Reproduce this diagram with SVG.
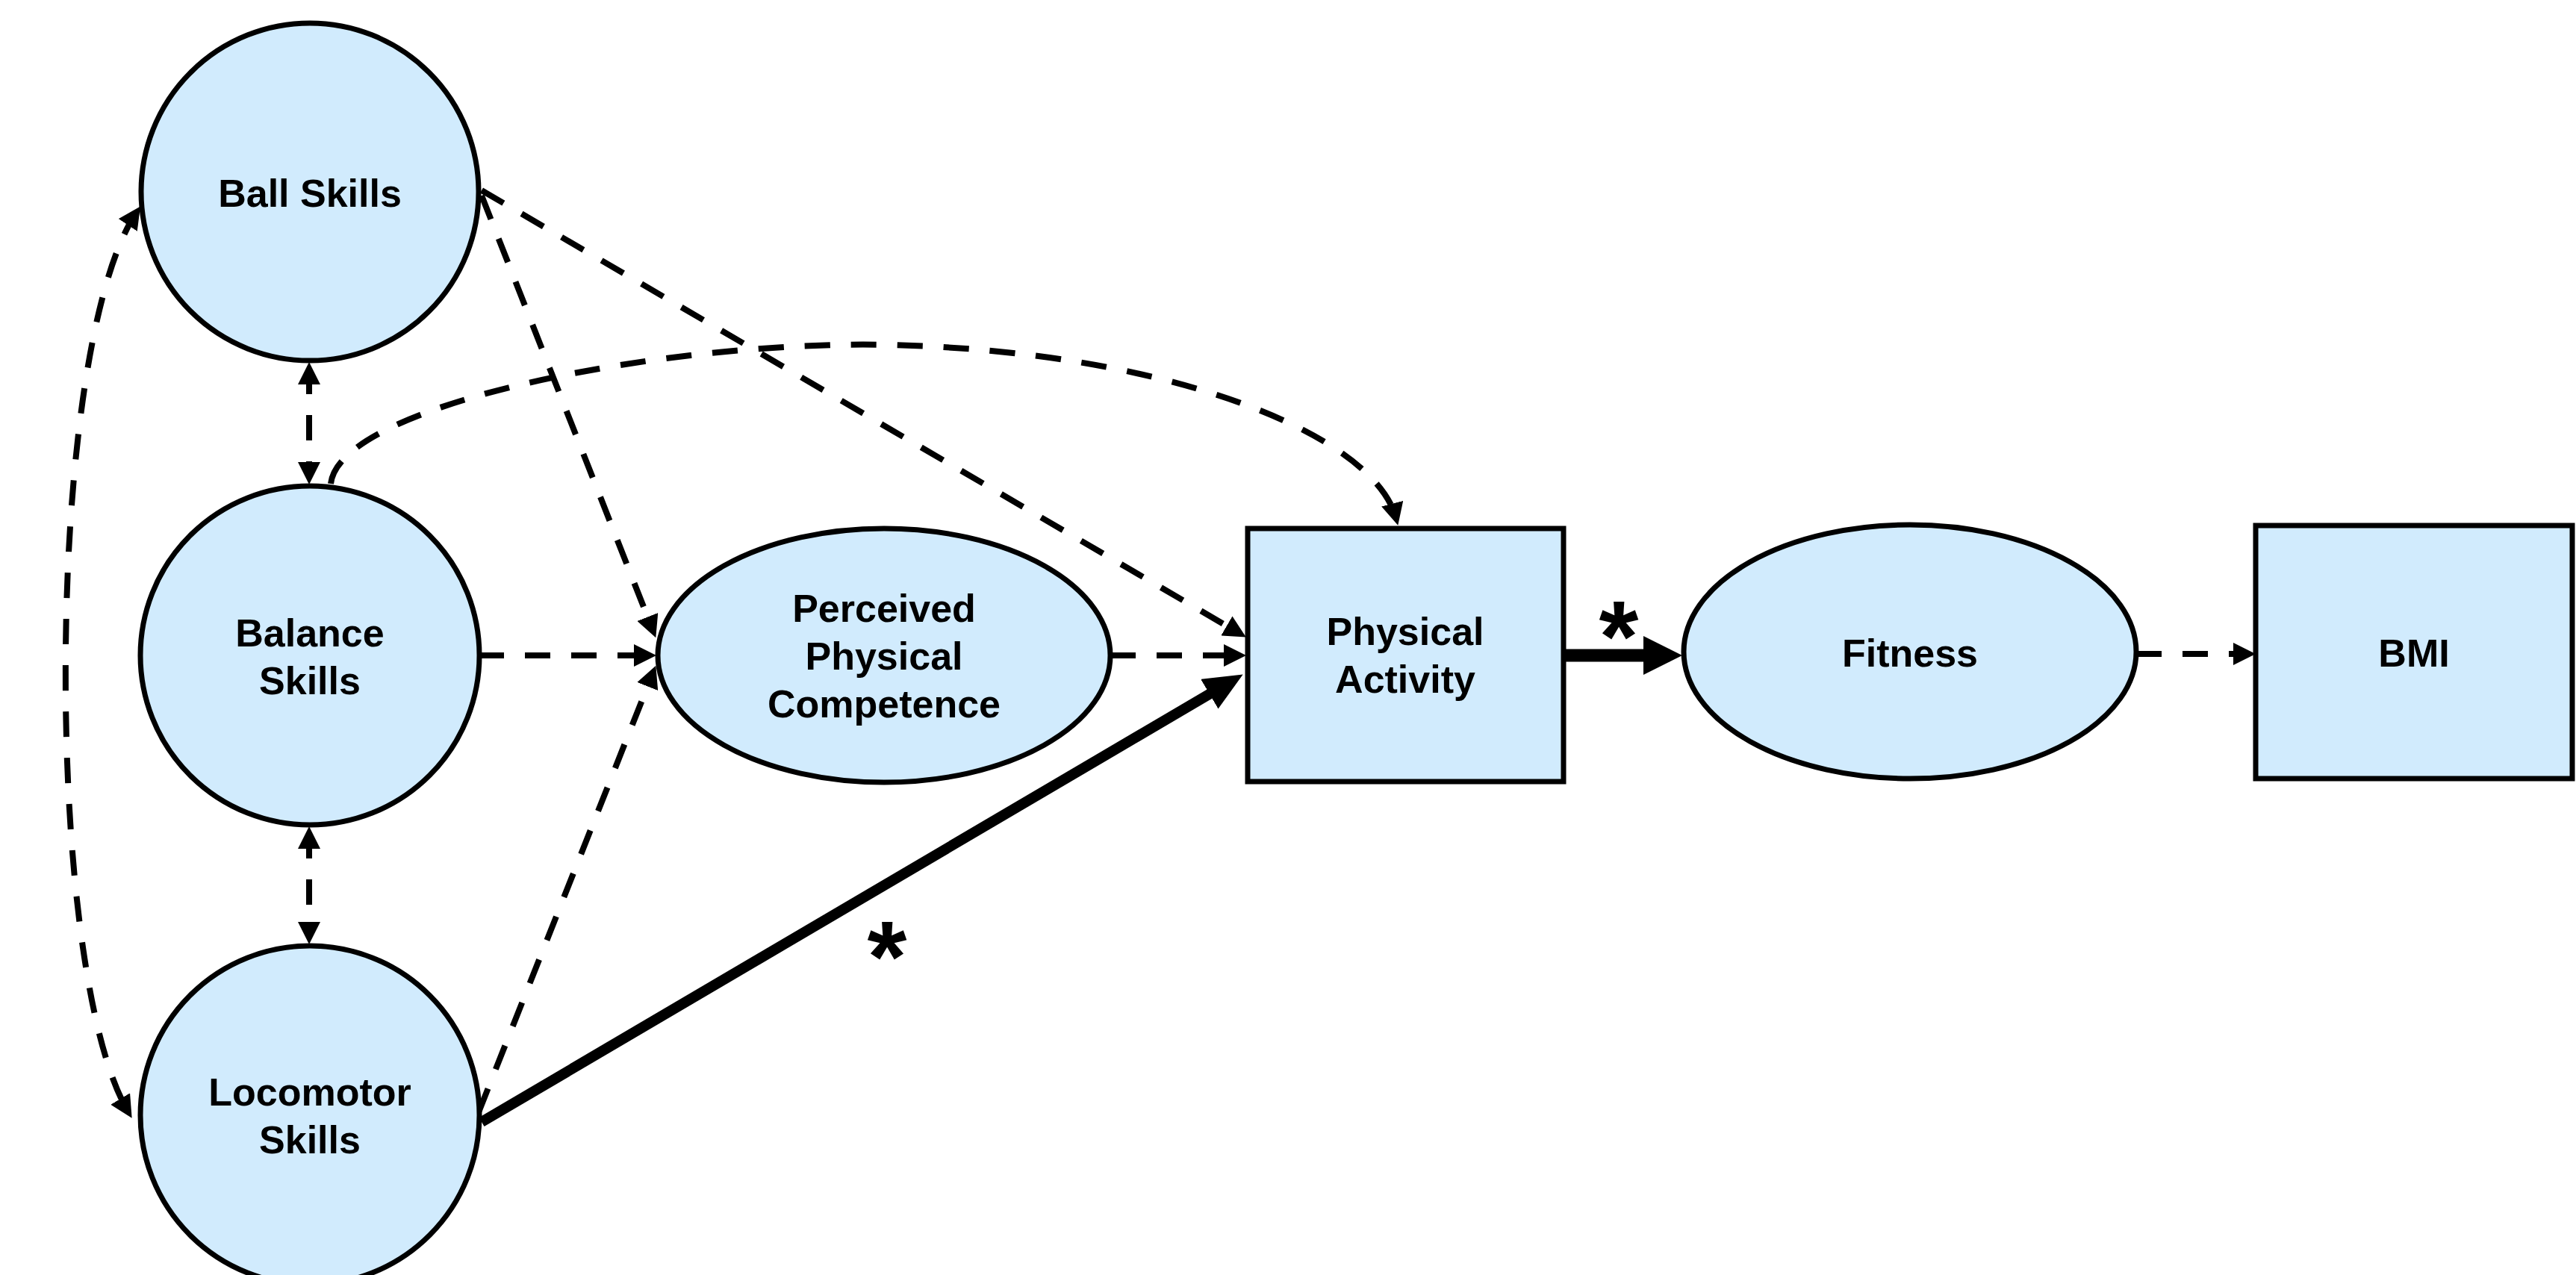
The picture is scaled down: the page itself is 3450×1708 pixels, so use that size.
<svg xmlns="http://www.w3.org/2000/svg" width="3450" height="1708" viewBox="0 0 3450 1708">
<style>
.node{fill:#d1ebfd;stroke:#000;stroke-width:7}
.lbl{font-family:"Liberation Sans",Arial,sans-serif;font-weight:bold;font-size:52px;text-anchor:middle;fill:#000}
.dash{fill:none;stroke:#000;stroke-width:8;stroke-dasharray:34 28}
.solid{fill:none;stroke:#000}
.star{font-family:"Liberation Sans",Arial,sans-serif;font-weight:bold;font-size:136px;text-anchor:middle;fill:#000}
</style>
<defs>
<marker id="ah" markerUnits="userSpaceOnUse" viewBox="0 0 30 30" markerWidth="30" markerHeight="30" refX="21" refY="15" orient="auto-start-reverse">
<path d="M0,0 L30,15 L0,30 z" fill="#000"/>
</marker>
<marker id="ahBig" markerUnits="userSpaceOnUse" viewBox="0 0 52 46" markerWidth="52" markerHeight="46" refX="35" refY="23" orient="auto">
<path d="M0,0 L52,23 L0,46 z" fill="#000"/>
</marker>
<marker id="ahBig2" markerUnits="userSpaceOnUse" viewBox="0 0 52 52" markerWidth="52" markerHeight="52" refX="35" refY="26" orient="auto">
<path d="M0,0 L52,26 L0,52 z" fill="#000"/>
</marker>
</defs>
<rect width="3450" height="1708" fill="#fff"/>
<g id="connectors">
<path class="dash" d="M414,494 L414,640" marker-start="url(#ah)" marker-end="url(#ah)"/>
<path class="dash" d="M414,1116 L414,1256" marker-start="url(#ah)" marker-end="url(#ah)"/>
<path class="dash" d="M183,284 C58,470 58,1300 172,1490" marker-start="url(#ah)" marker-end="url(#ah)"/>
<path class="dash" d="M645,262 L875,846" marker-end="url(#ah)"/>
<path class="dash" d="M641,878 L870,878" marker-end="url(#ah)"/>
<path class="dash" d="M641,1490 L875,900" marker-end="url(#ah)"/>
<path class="dash" d="M645,255 L1661,849" marker-end="url(#ah)"/>
<path class="dash" d="M443,648 C455,540 900,455 1190,462 C1560,470 1840,580 1870,695" marker-end="url(#ah)"/>
<path class="dash" d="M1487,878 L1660,878" marker-end="url(#ah)"/>
<path class="dash" d="M2861,876 L3012,876" marker-end="url(#ah)"/>
<path class="solid" stroke-width="14" d="M645,1503 L1650,912" marker-end="url(#ahBig)"/>
<path class="solid" stroke-width="17" d="M2094,878 L2236,878" marker-end="url(#ahBig2)"/>
<text class="star" x="1188" y="1328">*</text>
<text class="star" x="2168" y="899">*</text>
</g>
<g id="ball-skills">
<circle class="node" cx="415" cy="257" r="226"/>
<text class="lbl" x="415" y="277">Ball Skills</text>
</g>
<g id="balance-skills">
<circle class="node" cx="415" cy="878" r="227"/>
<text class="lbl" x="415" y="866">Balance</text>
<text class="lbl" x="415" y="930">Skills</text>
</g>
<g id="locomotor-skills">
<circle class="node" cx="415" cy="1494" r="227"/>
<text class="lbl" x="415" y="1481">Locomotor</text>
<text class="lbl" x="415" y="1545">Skills</text>
</g>
<g id="perceived-physical-competence">
<ellipse class="node" cx="1184" cy="878" rx="303" ry="170"/>
<text class="lbl" x="1184" y="833">Perceived</text>
<text class="lbl" x="1184" y="897">Physical</text>
<text class="lbl" x="1184" y="961">Competence</text>
</g>
<g id="physical-activity">
<rect class="node" x="1671" y="708" width="423" height="339"/>
<text class="lbl" x="1882" y="864">Physical</text>
<text class="lbl" x="1882" y="928">Activity</text>
</g>
<g id="fitness">
<ellipse class="node" cx="2558" cy="873" rx="303" ry="170"/>
<text class="lbl" x="2558" y="893">Fitness</text>
</g>
<g id="bmi">
<rect class="node" x="3021" y="704" width="424" height="339"/>
<text class="lbl" x="3233" y="893">BMI</text>
</g>
</svg>
